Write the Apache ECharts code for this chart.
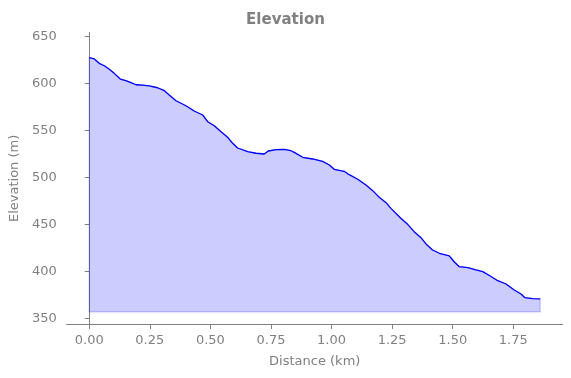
<!DOCTYPE html>
<html>
<head>
<meta charset="utf-8">
<script src="https://cdn.jsdelivr.net/npm/echarts@6/dist/echarts.min.js"></script>
<style>html,body{margin:0;padding:0;background:#fff}#c{width:571px;height:378px}</style>
</head>
<body>
<div id="c"></div>
<script>
const distanceKm = [0.000,0.021,0.041,0.062,0.083,0.103,0.128,0.151,0.172,0.193,0.220,0.248,0.282,0.310,0.330,0.358,0.385,0.406,0.433,0.468,0.489,0.516,0.544,0.571,0.592,0.612,0.654,0.688,0.722,0.739,0.771,0.805,0.832,0.846,0.881,0.922,0.963,0.991,1.011,1.052,1.073,1.108,1.142,1.170,1.197,1.225,1.245,1.286,1.314,1.341,1.369,1.390,1.417,1.445,1.486,1.506,1.527,1.562,1.596,1.624,1.655,1.686,1.720,1.754,1.782,1.798,1.830,1.861];
const elevationM = [627.7,626.3,621.7,619.1,615.3,611.0,605.0,603.2,601.1,598.9,598.6,597.6,595.7,592.6,588.0,581.9,578.4,575.5,571.0,566.7,559.6,555.3,548.9,543.0,536.6,531.6,527.7,526.0,525.2,528.4,529.8,530.2,528.7,527.0,521.7,519.9,517.4,513.5,508.9,506.8,503.2,498.3,492.2,486.2,479.1,473.4,467.4,456.8,450.4,442.6,436.2,429.5,423.1,419.6,416.7,410.6,405.3,404.3,401.8,400.0,395.4,390.4,386.9,380.5,376.3,372.3,371.3,371.0];
const fillBase = 357.2;
const xTicks = [0,0.25,0.5,0.75,1.0,1.25,1.5,1.75];
const yTicks = [350,400,450,500,550,600,650];

const gray = '#808080';
const font = 'DejaVu Sans';
const chart = echarts.init(document.getElementById('c'), null, {renderer:'canvas'});
const lineData = distanceKm.map((d,i)=>[d, elevationM[i]]);
chart.setOption({
  animation:false,
  title:{text:'Elevation', left:'center', top:8,
    textStyle:{fontFamily:font, fontSize:15, fontWeight:'bold', color:gray}},
  grid:{left:66.5, right:8.3, top:32.3, bottom:53.5, containLabel:false},
  xAxis:{type:'value', min:-0.093, max:1.954,
    name:'Distance (km)', nameLocation:'middle', nameGap:31,
    nameTextStyle:{fontFamily:font, fontSize:13, color:gray},
    axisLine:{show:true, lineStyle:{color:gray, width:1}},
    axisTick:{show:true, length:4.5, customValues:xTicks, lineStyle:{color:gray}},
    axisLabel:{customValues:xTicks, margin:10, fontFamily:font, fontSize:13, color:gray,
      formatter:v=>v.toFixed(2)},
    splitLine:{show:false}},
  yAxis:{type:'value', min:343.8, max:654.7,
    name:'Elevation (m)', nameLocation:'middle', nameGap:44,
    nameTextStyle:{fontFamily:font, fontSize:13, color:gray},
    axisLine:{show:true, lineStyle:{color:gray, width:1}},
    axisTick:{show:true, length:4.5, customValues:yTicks, lineStyle:{color:gray}},
    axisLabel:{customValues:yTicks, margin:10, fontFamily:font, fontSize:13, color:gray},
    splitLine:{show:false}},
  series:[
    {type:'custom', z:1, silent:true, data:[[0, fillBase]],
      renderItem:(params, api)=>{
        const pts = distanceKm.map((d,i)=>api.coord([d, elevationM[i]]));
        pts.push(api.coord([distanceKm[distanceKm.length-1], fillBase]));
        pts.push(api.coord([distanceKm[0], fillBase]));
        return {type:'polygon', shape:{points:pts},
          style:{fill:'rgba(0,0,255,0.2)', stroke:'rgba(0,0,255,0.2)', lineWidth:1.3}};
      }},
    {type:'line', z:2, data:lineData, showSymbol:false, silent:true,
      lineStyle:{color:'#0000ff', width:1.3}}
  ]
});
</script>
</body>
</html>
